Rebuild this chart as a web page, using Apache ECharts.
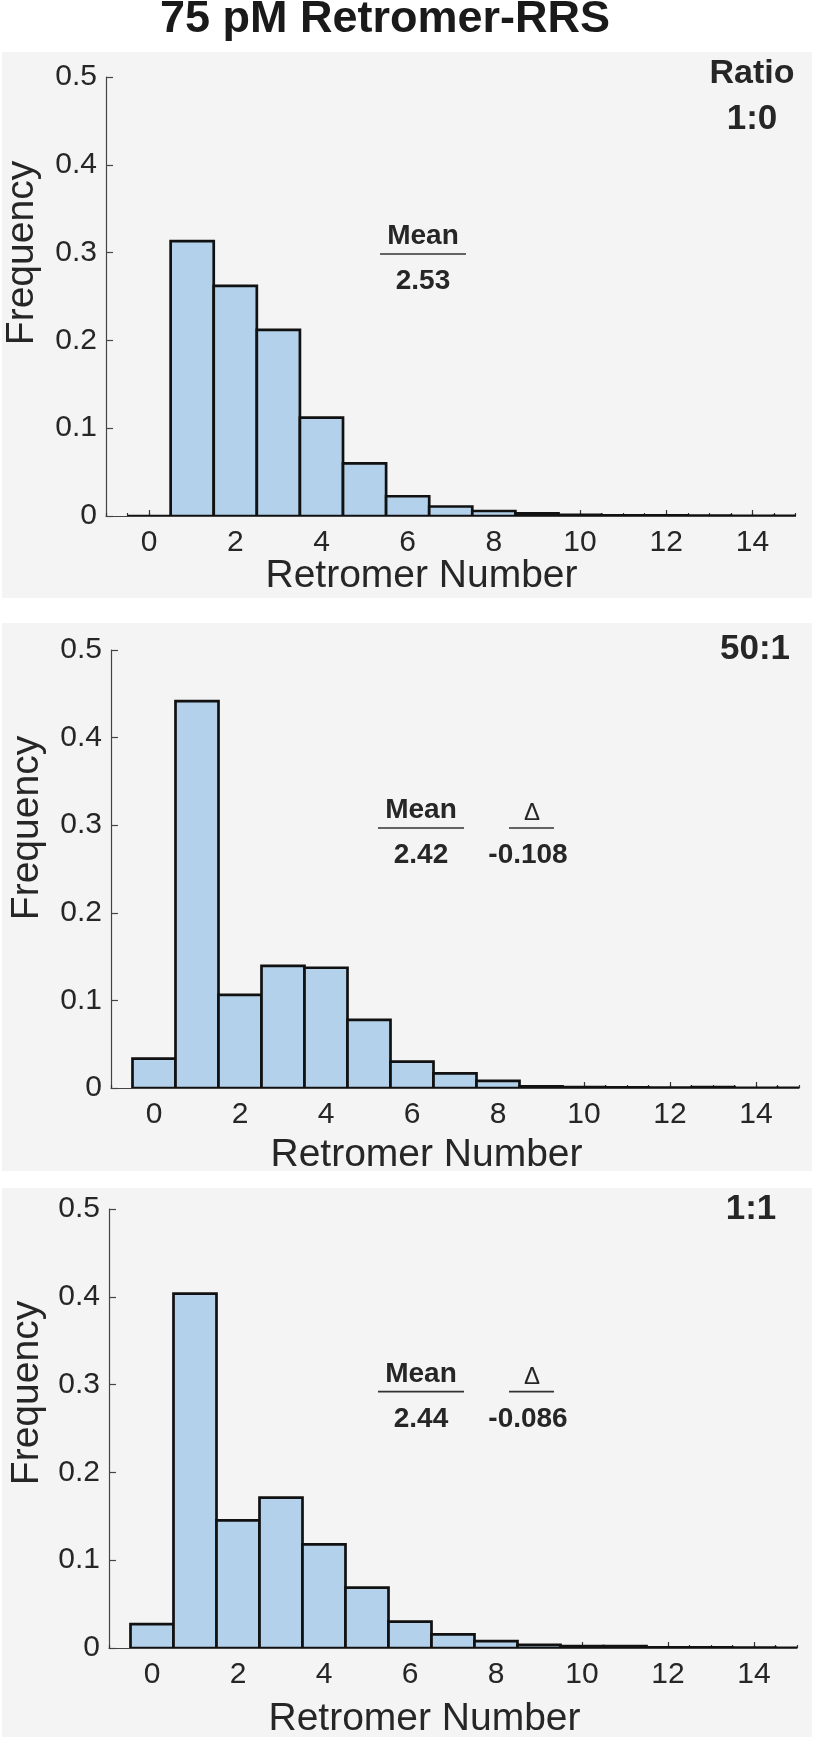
<!DOCTYPE html>
<html><head><meta charset="utf-8">
<script src="https://cdn.jsdelivr.net/npm/echarts@6/dist/echarts.min.js"></script>
<style>html,body{margin:0;padding:0;background:#fff}#c{width:816px;height:1737px}</style>
</head><body><div id="c"></div>
<script>
// ---- data ----
const bins = [0,1,2,3,4,5,6,7,8,9,10,11,12,13,14,15];
const freqRatio1to0  = [0, 0.313, 0.262, 0.212, 0.112, 0.060, 0.0225, 0.0108, 0.0057, 0.003, 0.0012, 0.0006, 0.0008, 0.0004, 0.0003, 0.0002];
const freqRatio50to1 = [0.0335, 0.4416, 0.1064, 0.1395, 0.1373, 0.0778, 0.0300, 0.0168, 0.0082, 0.0020, 0.0010, 0.0006, 0.0005, 0.0010, 0.0003, 0.0002];
const freqRatio1to1  = [0.0272, 0.4037, 0.1453, 0.1713, 0.1180, 0.0687, 0.0300, 0.0155, 0.0078, 0.0035, 0.0022, 0.0022, 0.0008, 0.0006, 0.0004, 0.0002];
const panelLabels = [['Ratio','1:0'], ['50:1'], ['1:1']];
const meanValues = ['2.53', '2.42', '2.44'];
const deltaValues = [null, '-0.108', '-0.086'];
const xTickValues = [0,2,4,6,8,10,12,14];
const yTickValues = [0,0.1,0.2,0.3,0.4,0.5];
const titleText = '75 pM Retromer-RRS';
const xName = 'Retromer Number';
const yName = 'Frequency';

// ---- layout ----
const FONT = '"Liberation Sans", Arial, sans-serif';
const TXT = '#262626';
const grids = [
  {left:106, top:77,   width:689.5, height:439},
  {left:111, top:650,  width:688,   height:438},
  {left:109, top:1209, width:688,   height:439}
];
const panels = [[2,52,810,546],[2,623,810,548],[2,1188,810,549]];
const series = [freqRatio1to0, freqRatio50to1, freqRatio1to1];

function renderItem(params, api){
  const x = api.value(0), y = api.value(1);
  const p0 = api.coord([x-0.5, 0]);
  const p1 = api.coord([x+0.5, y]);
  return {type:'rect', shape:{x:p0[0], y:p1[1], width:p1[0]-p0[0], height:p0[1]-p1[1]},
    style:{fill:'#b3d1eb', stroke:'#111', lineWidth:2.7}};
}

const xAxes = [], yAxes = [], ser = [];
grids.forEach((g,i)=>{
  xAxes.push({gridIndex:i, type:'value', min:-1, max:15, interval:0.5,
    axisLine:{show:true, onZero:false, lineStyle:{color:'#444', width:1.2}},
    axisTick:{show:true, inside:true, length:3, lineStyle:{color:'#333', width:1.2}},
    axisLabel:{customValues:xTickValues, margin:12, color:TXT, fontSize:30, fontFamily:FONT},
    splitLine:{show:false}});
  yAxes.push({gridIndex:i, type:'value', min:0, max:0.5, interval:0.1,
    axisLine:{show:true, onZero:false, lineStyle:{color:'#444', width:1.2}},
    axisTick:{show:true, inside:true, length:7, lineStyle:{color:'#444', width:1.2}},
    axisLabel:{margin:9, color:TXT, fontSize:30, fontFamily:FONT,
      formatter:v=> v===0 ? '0' : v.toFixed(1)},
    splitLine:{show:false}});
  ser.push({type:'custom', xAxisIndex:i, yAxisIndex:i, clip:true, renderItem,
    encode:{x:0,y:1}, data: bins.map((b,k)=>[b, series[i][k]]), z:3});
});
grids.forEach((g,i)=>{
  xAxes.push({gridIndex:i, type:'value', min:-1, max:15, position:'bottom',
    axisLine:{show:false, onZero:false}, axisLabel:{show:false}, splitLine:{show:false},
    axisTick:{show:true, inside:true, length:6, customValues:xTickValues, lineStyle:{color:'#333', width:1.2}}});
});

const G = [];
panels.forEach(p=>G.push({type:'rect', shape:{x:p[0],y:p[1],width:p[2],height:p[3]}, style:{fill:'#f4f4f4'}, z:-10}));
function txt(t,x,y,size,weight,extra){
  return Object.assign({type:'text', x:x, y:y, z:10, style:{text:t, font:(weight||'normal')+' '+size+'px '+FONT, fill:TXT, align:'center', verticalAlign:'middle'}}, extra||{});
}
function line(x1,x2,y){ return {type:'line', z:10, shape:{x1:x1,y1:y,x2:x2,y2:y}, style:{stroke:'#333', lineWidth:1.6}}; }
G.push(txt(titleText, 385, 20, 45, 'bold', null));
G[G.length-1].style.fill = '#1a1a1a';
// panel labels
G.push(txt(panelLabels[0][0], 752, 73.5, 34, 'bold'));
G.push(txt(panelLabels[0][1], 752, 119.5, 35, 'bold'));
G.push(txt(panelLabels[1][0], 755, 649, 35, 'bold'));
G.push(txt(panelLabels[2][0], 751, 1209.5, 35, 'bold'));
// axis names
const xNamePos = [[421.5,576.5],[426.5,1155.5],[424.5,1719]];
const yNamePos = [[22,253],[27.5,828],[27.5,1393]];
xNamePos.forEach(p=>G.push(txt(xName, p[0], p[1], 39, 'normal')));
yNamePos.forEach(p=>G.push(txt(yName, p[0], p[1], 39, 'normal', {rotation:Math.PI/2})));
// mean / delta annotations
const annY = [[236,254,281.5],[810,828,855],[1374,1391.6,1419]];
const meanX = [423, 421, 421];
annY.forEach((a,i)=>{
  G.push(txt('Mean', meanX[i], a[0], 28, 'bold'));
  G.push(line(meanX[i]-43, meanX[i]+43, a[1]));
  G.push(txt(meanValues[i], meanX[i], a[2], 28, 'bold'));
  if (deltaValues[i]) {
    G.push(txt('Δ', 532, a[0]+3, 24, 'normal'));
    G.push(line(509, 554, a[1]));
    G.push(txt(deltaValues[i], 528, a[2], 28, 'bold'));
  }
});

const chart = echarts.init(document.getElementById('c'), null, {renderer:'canvas'});
chart.setOption({
  animation:false,
  backgroundColor:'#ffffff',
  grid: grids,
  xAxis: xAxes,
  yAxis: yAxes,
  series: ser,
  graphic:{elements:G}
});
</script></body></html>
